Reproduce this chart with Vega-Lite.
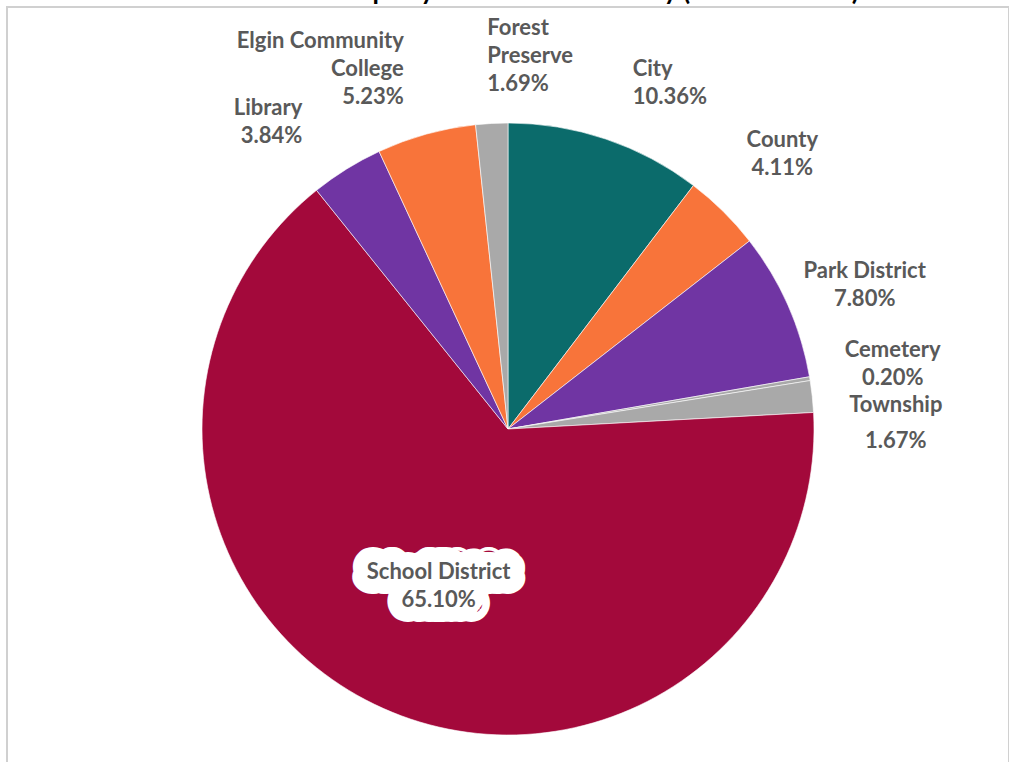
{
  "$schema": "https://vega.github.io/schema/vega-lite/v6.json",
  "autosize": "none",
  "width": 1002,
  "height": 844,
  "padding": {"left": 7, "top": 7, "right": 0, "bottom": 0},
  "background": "white",
  "view": {"stroke": "#d0d0d0", "strokeWidth": 2},
  "title": {
    "text": "Distribution of Property Tax Levies Per Entity (Tax Year 2021)",
    "font": "Lato",
    "fontSize": 26,
    "fontWeight": "bold",
    "color": "#000000",
    "anchor": "middle",
    "offset": 2
  },
  "config": {"view": {"stroke": "#d0d0d0", "strokeWidth": 2}},
  "data": {
    "values": [
      {"Order": 1, "Entity": "City", "Label": "City", "Percent": 10.36},
      {"Order": 2, "Entity": "County", "Label": "County", "Percent": 4.11},
      {"Order": 3, "Entity": "Park District", "Label": "Park District", "Percent": 7.80},
      {"Order": 4, "Entity": "Cemetery", "Label": "Cemetery", "Percent": 0.20},
      {"Order": 5, "Entity": "Township", "Label": "Township", "Percent": 1.67},
      {"Order": 6, "Entity": "School District", "Label": "School District", "Percent": 65.10},
      {"Order": 7, "Entity": "Library", "Label": "Library", "Percent": 3.84},
      {"Order": 8, "Entity": "Elgin Community College", "Label": "Elgin Community\nCollege", "Percent": 5.23},
      {"Order": 9, "Entity": "Forest Preserve", "Label": "Forest\nPreserve", "Percent": 1.69}
    ]
  },
  "encoding": {
    "theta": {"field": "Percent", "type": "quantitative", "stack": true},
    "order": {"field": "Order", "type": "quantitative"}
  },
  "layer": [
    {
      "mark": {"type": "arc", "outerRadius": 306, "stroke": "#ffffff", "strokeWidth": 1, "strokeOpacity": 0.6},
      "encoding": {
        "color": {
          "field": "Entity",
          "type": "nominal",
          "legend": null,
          "scale": {
            "domain": ["City", "County", "Park District", "Cemetery", "Township", "School District", "Library", "Elgin Community College", "Forest Preserve"],
            "range": ["#0b6b6b", "#f8743a", "#7035a3", "#a9a9a9", "#a9a9a9", "#a3093b", "#7035a3", "#f8743a", "#a9a9a9"]
          }
        }
      }
    },
    {
      "transform": [
        {"calculate": "datum.Label + '\\n' + format(datum.Percent, '.2f') + '%'", "as": "LabelText"}
      ],
      "mark": {
        "type": "text",
        "font": "Lato",
        "fontSize": 22,
        "fontWeight": "bold",
        "fill": "#ffffff",
        "stroke": "#ffffff",
        "strokeWidth": 30,
        "strokeJoin": "round",
        "lineBreak": "\n",
        "lineHeight": 28,
        "radius": 170,
        "align": "center",
        "baseline": "bottom"
      },
      "encoding": {
        "text": {
          "condition": {"test": "datum.Percent > 50", "field": "LabelText"},
          "value": ""
        }
      }
    },
    {
      "transform": [
        {"calculate": "datum.Label + '\\n' + format(datum.Percent, '.2f') + '%'", "as": "LabelText"}
      ],
      "mark": {
        "type": "text",
        "font": "Lato",
        "fontSize": 22,
        "fontWeight": "bold",
        "color": "#595959",
        "lineBreak": "\n",
        "lineHeight": {"expr": "datum.Entity == 'Township' ? 36 : 28"},
        "radius": {"expr": "datum.Percent > 50 ? 170 : 390"},
        "align": {"expr": "datum.Entity == 'City' || datum.Entity == 'Forest Preserve' ? 'left' : (datum.Entity == 'Library' || datum.Entity == 'Elgin Community College' ? 'right' : 'center')"},
        "baseline": {"expr": "datum.Entity == 'City' || datum.Entity == 'Library' ? 'top' : (datum.Entity == 'Township' ? 'line-top' : (datum.Entity == 'Cemetery' ? 'line-bottom' : (datum.Entity == 'Park District' ? 'middle' : 'bottom')))"}
      },
      "encoding": {
        "text": {"field": "LabelText", "type": "nominal"}
      }
    }
  ]
}
